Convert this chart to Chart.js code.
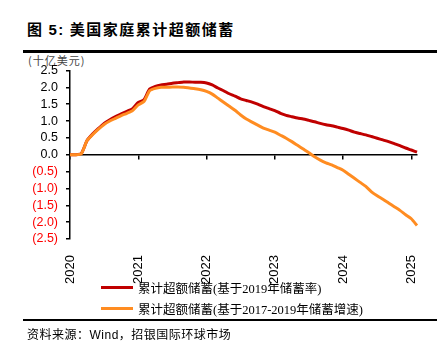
<!DOCTYPE html>
<html>
<head>
<meta charset="utf-8">
<script src="https://cdn.jsdelivr.net/npm/chart.js@4.4.1/dist/chart.umd.min.js"></script>
<style>
  body { margin: 0; background: #fff; width: 447px; height: 353px; position: relative; overflow: hidden; }
  .title { position: absolute; left: 27px; top: 18px; font: bold 15px "Noto Sans CJK SC", sans-serif; letter-spacing: 1.5px; color: #000; }
  .title b { font-family: "Liberation Sans", Arial, sans-serif; font-size: 15px; }
  .rule { position: absolute; left: 23px; width: 414px; height: 2.5px; background: #000; }
  .unit { position: absolute; left: 28px; top: 52px; font: 11px "Noto Sans CJK SC", sans-serif; letter-spacing: 1px; color: #444; }
  #chartBox { position: absolute; left: 0; top: 55px; width: 447px; height: 230px; }
  #legend { position: absolute; left: 101px; top: 277px; font: 12.5px "Liberation Serif", "Noto Sans CJK SC", serif; color: #000; }
  #legend div { height: 21px; display: flex; align-items: center; }
  #legend span.sw { display: inline-block; width: 32px; height: 3px; margin-right: 5px; }
  .source { position: absolute; left: 27px; top: 325px; font: 12px "Liberation Sans", "Noto Sans CJK SC", sans-serif; letter-spacing: 0.5px; color: #000; }
</style>
</head>
<body>
<div class="title">图 <b>5:</b> 美国家庭累计超额储蓄</div>
<div class="rule" style="top:50px"></div>
<div class="unit">(十亿美元)</div>
<div id="chartBox"><canvas id="savingsChart"></canvas></div>
<div id="legend"></div>
<div class="rule" style="top:318.5px"></div>
<div class="source">资料来源：Wind，招银国际环球市场</div>

<script>
// monthly, 2020-01 .. 2025-02
const months = [];
for (let y = 2020; y <= 2025; y++) {
    for (let m = 1; m <= 12; m++) {
        if (y === 2025 && m > 2) break;
        months.push(y + '-' + String(m).padStart(2, '0'));
    }
}

// 累计超额储蓄(基于2019年储蓄率)
const excessRate2019 = [
    0, 0, 0.04, 0.42, 0.62, 0.78, 0.93, 1.04, 1.13, 1.21, 1.29, 1.37,
    1.55, 1.63, 1.95, 2.03, 2.07, 2.09, 2.12, 2.14, 2.16, 2.16, 2.15, 2.15,
    2.13, 2.07, 1.98, 1.90, 1.81, 1.74, 1.66, 1.61, 1.56, 1.50, 1.43, 1.37,
    1.31, 1.23, 1.17, 1.13, 1.09, 1.06, 1.02, 0.98, 0.93, 0.89, 0.86, 0.82,
    0.78, 0.73, 0.67, 0.63, 0.59, 0.54, 0.49, 0.44, 0.39, 0.33, 0.27, 0.20,
    0.14, 0.08
];

// 累计超额储蓄(基于2017-2019年储蓄增速)
const excessGrowth1719 = [
    0, 0, 0.03, 0.42, 0.60, 0.76, 0.90, 1.00, 1.08, 1.16, 1.23, 1.31,
    1.48, 1.58, 1.90, 1.97, 2.00, 2.00, 2.01, 2.01, 2.00, 1.98, 1.96, 1.93,
    1.88, 1.80, 1.68, 1.56, 1.44, 1.32, 1.18, 1.06, 0.97, 0.88, 0.79, 0.73,
    0.67, 0.58, 0.49, 0.39, 0.28, 0.17, 0.06, -0.06, -0.16, -0.24, -0.30, -0.38,
    -0.46, -0.58, -0.70, -0.82, -0.94, -1.10, -1.22, -1.32, -1.43, -1.54, -1.65, -1.78,
    -1.90, -2.10
];

const yTicks = [-2.5, -2.0, -1.5, -1.0, -0.5, 0, 0.5, 1.0, 1.5, 2.0, 2.5];

const seriesNames = ['累计超额储蓄(基于2019年储蓄率)', '累计超额储蓄(基于2017-2019年储蓄增速)'];
const seriesColors = ['#C00000', '#FF8C21'];

// 只保留每年1月的刻度
function keepYears(scale) {
    scale.ticks = scale.ticks.filter(t => t.value % 12 === 0);
}

const ctx = document.getElementById('savingsChart').getContext('2d');
new Chart(ctx, {
    type: 'line',
    data: {
        labels: months,
        datasets: [{
            label: seriesNames[0],
            data: excessRate2019,
            borderColor: seriesColors[0],
            borderWidth: 3,
            pointRadius: 0,
            tension: 0.2,
            order: 1
        }, {
            label: seriesNames[1],
            data: excessGrowth1719,
            borderColor: seriesColors[1],
            borderWidth: 3,
            pointRadius: 0,
            tension: 0.2,
            order: 0
        }]
    },
    options: {
        responsive: true,
        maintainAspectRatio: false,
        animation: false,
        layout: { padding: { top: 12, right: 30, left: 0, bottom: 0 } },
        plugins: {
            legend: { display: false },
            tooltip: { enabled: false }
        },
        scales: {
            // 零轴（带刻度线）
            x: {
                type: 'category',
                position: { y: 0 },
                afterBuildTicks: keepYears,
                border: { display: true, color: '#000', width: 1.5 },
                grid: { display: true, drawOnChartArea: false, drawTicks: true, color: '#000', tickLength: 4, lineWidth: 1.5 },
                ticks: { display: false, autoSkip: false }
            },
            // 底部年份标签
            x2: {
                type: 'category',
                position: 'bottom',
                afterBuildTicks: keepYears,
                afterFit: s => { s.height = 46; },
                border: { display: false },
                grid: { display: false },
                ticks: {
                    autoSkip: false,
                    minRotation: 90,
                    maxRotation: 90,
                    padding: 8,
                    color: '#000',
                    font: { family: 'Liberation Sans', size: 13 },
                    callback: function(v) { return this.getLabelForValue(v).slice(0, 4); }
                }
            },
            y: {
                min: -2.5,
                max: 2.5,
                afterBuildTicks: s => { s.ticks = yTicks.map(v => ({ value: v })); },
                afterFit: s => { s.width = 70; },
                border: { display: true, color: '#000', width: 1.5 },
                grid: { display: true, drawOnChartArea: false, drawTicks: true, color: '#000', tickLength: 4, lineWidth: 1.5 },
                ticks: {
                    autoSkip: false,
                    padding: 8,
                    font: { family: 'Liberation Sans', size: 12.5 },
                    color: c => c.tick.value < 0 ? '#FF0000' : '#000',
                    callback: v => v < 0 ? '(' + (-v).toFixed(1) + ')' : v.toFixed(1)
                }
            }
        }
    }
});

// HTML 图例
const legendEl = document.getElementById('legend');
seriesNames.forEach((name, i) => {
    legendEl.innerHTML += '<div><span class="sw" style="background:' + seriesColors[i] + '"></span>' + name + '</div>';
});
</script>
</body>
</html>
